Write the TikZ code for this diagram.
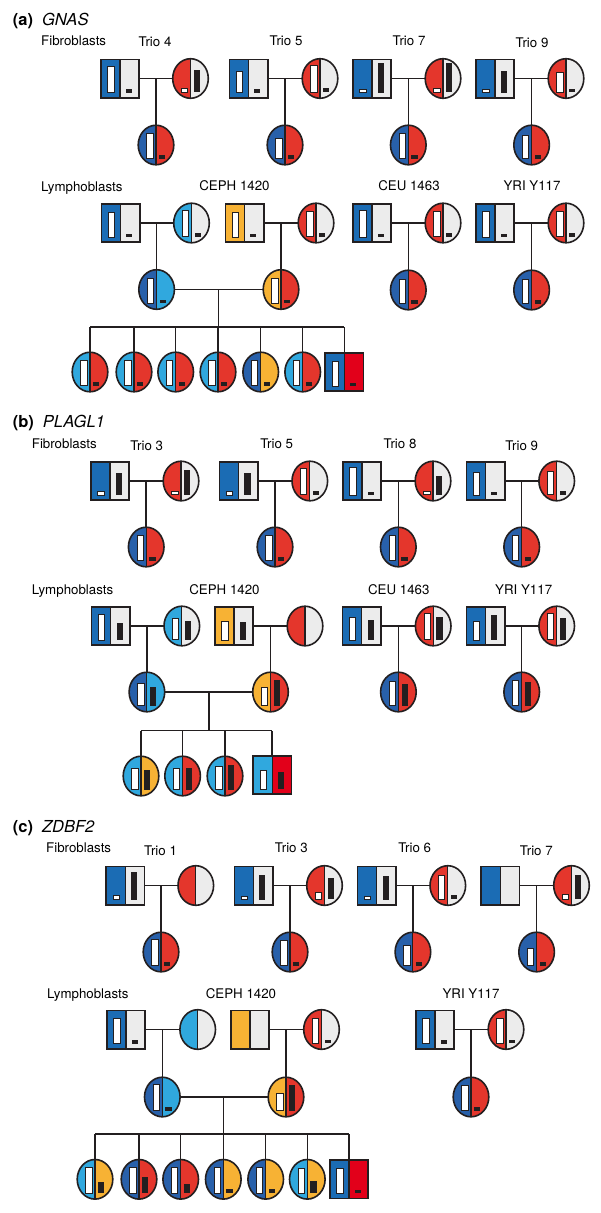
\documentclass[tikz,border=0pt]{standalone}
\usepackage{fontspec}
\setmainfont{TeX Gyre Heros}
\usetikzlibrary{calc}
\definecolor{cBlue}{RGB}{27,108,180}
\definecolor{cDBlue}{RGB}{40,96,170}
\definecolor{cLBlue}{RGB}{48,168,222}
\definecolor{cRed}{RGB}{228,54,44}
\definecolor{cRedM}{RGB}{226,0,26}
\definecolor{cGray}{RGB}{236,236,236}
\definecolor{cOr}{RGB}{247,178,52}
\definecolor{cLine}{RGB}{35,31,32}
\tikzset{
 outl/.style={draw=cLine,line width=1.6pt},
 divl/.style={draw=cLine,line width=1.1pt},
 conn/.style={draw=cLine,line width=1.5pt},
 wbar/.style={fill=white,draw=cLine,line width=0.6pt},
 bbar/.style={fill=cLine},
 sqn/.style={rectangle,minimum width=38.4pt,minimum height=38.4pt,inner sep=0pt,outer sep=0pt},
 cin/.style={rectangle,minimum width=35.6pt,minimum height=39.6pt,inner sep=0pt,outer sep=0pt},
 lab/.style={anchor=base,font=\fontsize{13.3}{15}\selectfont,inner sep=0pt},
 labw/.style={anchor=base west,font=\fontsize{13.3}{15}\selectfont,inner sep=0pt},
 ttl/.style={anchor=base west,font=\fontsize{16.5}{19}\selectfont,inner sep=0pt},
}
% cx, cy, white offset, black offset, base, white h, black h
\newcommand\barsat[7]{%
 \ifdim #6pt>0pt \filldraw[wbar] ({#1-#3-3.1},{#2+#5}) rectangle ({#1-#3+3.1},{#2+#5-#6}); \fi
 \ifdim #7pt>0pt \fill[bbar] ({#1+#4-3.1},{#2+#5}) rectangle ({#1+#4+3.1},{#2+#5-#7}); \fi
}
% name, x, y, left colour, right colour, white h, black h
\newcommand\Msq[7]{%
 \node[sqn] (#1) at (#2,#3) {};
 \fill[#4] (#1.south west) rectangle (#1.north);
 \fill[#5] (#1.south) rectangle (#1.north east);
 \barsat{#2}{#3}{9.3}{8.8}{14}{#6}{#7}
 \draw[outl] (#1.south west) rectangle (#1.north east);
 \draw[divl] (#1.south) -- (#1.north);
}
\newcommand\Fci[7]{%
 \node[cin] (#1) at (#2,#3) {};
 \begin{scope}
 \clip (#2,#3) ellipse [x radius=17.8pt, y radius=19.8pt];
 \fill[#4] ({#2-20},{#3-21}) rectangle (#2,{#3+21});
 \fill[#5] (#2,{#3-21}) rectangle ({#2+20},{#3+21});
 \end{scope}
 \barsat{#2}{#3}{6.2}{6.2}{13.5}{#6}{#7}
 \draw[outl] (#2,#3) ellipse [x radius=17.8pt, y radius=19.8pt];
 \draw[divl] (#1.north) -- (#1.south);
}
\newcommand\trio[3]{%
 \draw[conn] (#1.east) -- (#2.west);
 \draw[conn] (#3.north) -- (#3.north |- #1.east);
}
\newcommand\kid[2]{\draw[conn] (#1.north) -- (#1.north |- #2);}

\begin{document}
\begin{tikzpicture}[x=1pt,y=-1pt]
\fill[white] (0,0) rectangle (600,1213);
\useasboundingbox (0,0) rectangle (600,1213);

% ================= (a) GNAS =================
\node[ttl] (ta) at (12.7,25) {\textbf{(a)}\hspace{9pt}\textit{GNAS}};
\node[labw] (fa) at (41,45) {Fibroblasts};
\node[lab] (t4a) at (155,46.5) {Trio 4};
\node[lab] (t5a) at (286,45.5) {Trio 5};
\node[lab] (t7a) at (409,45.5) {Trio 7};
\node[lab] (t9a) at (532,47) {Trio 9};

\Msq{a4f}{120}{78.5}{cBlue}{cGray}{26.7}{4}
\Fci{a4m}{190.5}{78.5}{cRed}{cGray}{4}{21.6}
\Fci{a4c}{156}{145}{cDBlue}{cRed}{25}{3.5}
\Msq{a5f}{248.5}{78.5}{cBlue}{cGray}{21}{4}
\Fci{a5m}{320}{78.5}{cRed}{cGray}{26.7}{3.7}
\Fci{a5c}{285}{145}{cDBlue}{cRed}{20}{3.5}
\Msq{a7f}{372}{78.5}{cBlue}{cGray}{3.3}{30}
\Fci{a7m}{443}{78.5}{cRed}{cGray}{3.5}{28.7}
\Fci{a7c}{408.3}{145}{cDBlue}{cRed}{25}{3.5}
\Msq{a9f}{495}{78.5}{cBlue}{cGray}{3.3}{21.7}
\Fci{a9m}{566}{78.5}{cRed}{cGray}{20}{3.5}
\Fci{a9c}{531.6}{145}{cDBlue}{cRed}{23.7}{3.5}
\trio{a4f}{a4m}{a4c}
\trio{a5f}{a5m}{a5c}
\trio{a7f}{a7m}{a7c}
\trio{a9f}{a9m}{a9c}

\node[labw] (la) at (41,191.5) {Lymphoblasts};
\node[lab] (cepha) at (234.5,190.7) {CEPH 1420};
\node[lab] (ceua) at (409,190.7) {CEU 1463};
\node[lab] (yria) at (532,190.7) {YRI Y117};

\Msq{aP1}{120.5}{223}{cBlue}{cGray}{25}{3.5}
\Fci{aM1}{191.5}{223}{cLBlue}{cGray}{26}{3.5}
\Msq{aP2}{244.5}{223}{cOr}{cGray}{25}{3.5}
\Fci{aM2}{316}{223}{cRed}{cGray}{25}{3.5}
\Fci{aG1}{156.6}{289.5}{cDBlue}{cLBlue}{25}{3.5}
\Fci{aG2}{281}{289.5}{cOr}{cRed}{25}{3.5}
\trio{aP1}{aM1}{aG1}
\trio{aP2}{aM2}{aG2}
\draw[conn] (aG1.east) -- (aG2.west);
\coordinate (aS) at (218.5,327);
\draw[conn] (aS) -- (aS |- aG1.east);
\Fci{aK1}{90}{372}{cLBlue}{cRed}{25}{3.5}
\Fci{aK2}{134}{372}{cLBlue}{cRed}{25}{3.5}
\Fci{aK3}{175.7}{372}{cLBlue}{cRed}{25}{3.5}
\Fci{aK4}{218}{372}{cLBlue}{cRed}{25}{3.5}
\Fci{aK5}{260.7}{372}{cDBlue}{cOr}{25}{3.5}
\Fci{aK6}{302.7}{372}{cLBlue}{cRed}{25}{3.5}
\Msq{aK7}{344.3}{372}{cBlue}{cRedM}{25}{3.5}
\draw[conn] (aK1.north |- aS) -- (aK7.north |- aS);
\kid{aK1}{aS}\kid{aK2}{aS}\kid{aK3}{aS}\kid{aK4}{aS}\kid{aK5}{aS}\kid{aK6}{aS}\kid{aK7}{aS}

\Msq{aCf}{372}{223}{cBlue}{cGray}{26.7}{3.5}
\Fci{aCm}{443}{223}{cRed}{cGray}{25}{3.5}
\Fci{aCc}{408.3}{290}{cDBlue}{cRed}{24}{3.5}
\trio{aCf}{aCm}{aCc}
\Msq{aYf}{495}{223}{cBlue}{cGray}{26}{3.5}
\Fci{aYm}{566}{223}{cRed}{cGray}{25}{3.5}
\Fci{aYc}{531.6}{290}{cDBlue}{cRed}{24}{3.5}
\trio{aYf}{aYm}{aYc}

% ================= (b) PLAGL1 =================
\node[ttl] (tb) at (12.7,427) {\textbf{(b)}\hspace{9pt}\textit{PLAGL1}};
\node[labw] (fb) at (31.7,448.3) {Fibroblasts};
\node[lab] (t3b) at (146.7,450) {Trio 3};
\node[lab] (t5b) at (276.7,448.3) {Trio 5};
\node[lab] (t8b) at (400,448.3) {Trio 8};
\node[lab] (t9b) at (521.7,450) {Trio 9};

\Msq{b3f}{110}{481}{cBlue}{cGray}{3.5}{22}
\Fci{b3m}{181}{481}{cRed}{cGray}{3.5}{25}
\Fci{b3c}{146.2}{547}{cDBlue}{cRed}{25}{3.5}
\Msq{b5f}{238.7}{481}{cBlue}{cGray}{3.5}{22}
\Fci{b5m}{309.8}{481}{cRed}{cGray}{26}{3.5}
\Fci{b5c}{275}{547}{cDBlue}{cRed}{25}{3.5}
\Msq{b8f}{362}{481}{cBlue}{cGray}{27.7}{3.5}
\Fci{b8m}{433}{481}{cRed}{cGray}{3.5}{18.3}
\Fci{b8c}{398.3}{547}{cDBlue}{cRed}{25}{3.5}
\Msq{b9f}{485.5}{481}{cBlue}{cGray}{23}{3.5}
\Fci{b9m}{556.7}{481}{cRed}{cGray}{23}{3.5}
\Fci{b9c}{521.7}{547}{cDBlue}{cRed}{25}{3.5}
\trio{b3f}{b3m}{b3c}
\trio{b5f}{b5m}{b5c}
\trio{b8f}{b8m}{b8c}
\trio{b9f}{b9m}{b9c}

\node[labw] (lb) at (31.7,594) {Lymphoblasts};
\node[lab] (cephb) at (224.5,594) {CEPH 1420};
\node[lab] (ceub) at (398.8,594) {CEU 1463};
\node[lab] (yrib) at (523.7,594) {YRI Y117};

\Msq{bP1}{110.8}{626}{cBlue}{cGray}{26}{17}
\Fci{bM1}{181.8}{626}{cLBlue}{cGray}{21}{19}
\Msq{bP2}{234}{626}{cOr}{cGray}{18.7}{17.7}
\Fci{bM2}{305}{626}{cRed}{cGray}{0}{0}
\Fci{bG1}{146.9}{692}{cDBlue}{cLBlue}{22}{19}
\Fci{bG2}{270.5}{692}{cOr}{cRed}{18}{26}
\trio{bP1}{bM1}{bG1}
\trio{bP2}{bM2}{bG2}
\draw[conn] (bG1.east) -- (bG2.west);
\coordinate (bS) at (208.8,730.7);
\draw[conn] (bS) -- (bS |- bG1.east);
\Fci{bK1}{141}{776}{cLBlue}{cOr}{21.7}{19.3}
\Fci{bK2}{182.6}{776}{cLBlue}{cRed}{21.7}{22}
\Fci{bK3}{225}{776}{cLBlue}{cRed}{23}{25}
\Msq{bK4}{272.2}{775}{cLBlue}{cRedM}{19}{16.7}
\draw[conn] (bK1.north |- bS) -- (bK4.north |- bS);
\kid{bK1}{bS}\kid{bK2}{bS}\kid{bK3}{bS}\kid{bK4}{bS}

\Msq{bCf}{361.8}{626}{cBlue}{cGray}{22.7}{20}
\Fci{bCm}{433.2}{626}{cRed}{cGray}{26.7}{23}
\Fci{bCc}{398.4}{692}{cDBlue}{cRed}{24}{21.7}
\trio{bCf}{bCm}{bCc}
\Msq{bYf}{485.5}{626}{cBlue}{cGray}{19}{25}
\Fci{bYm}{556.7}{626}{cRed}{cGray}{26}{22}
\Fci{bYc}{521.7}{692}{cDBlue}{cRed}{25}{23.3}
\trio{bYf}{bYm}{bYc}

% ================= (c) ZDBF2 =================
\node[ttl] (tc) at (12.7,832) {\textbf{(c)}\hspace{9pt}\textit{ZDBF2}};
\node[labw] (fc) at (46,852.5) {Fibroblasts};
\node[lab] (t1c) at (160.5,855) {Trio 1};
\node[lab] (t3c) at (291.3,852.7) {Trio 3};
\node[lab] (t6c) at (414.7,852.7) {Trio 6};
\node[lab] (t7c) at (536.3,855) {Trio 7};

\Msq{c1f}{125.2}{885.5}{cBlue}{cGray}{4.5}{27.3}
\Fci{c1m}{195.8}{885.5}{cRed}{cGray}{0}{0}
\Fci{c1c}{161}{952}{cDBlue}{cRed}{26}{3.5}
\Msq{c3f}{253.5}{885.5}{cBlue}{cGray}{3.5}{25}
\Fci{c3m}{324.5}{885.5}{cRed}{cGray}{6.7}{21}
\Fci{c3c}{290}{952}{cDBlue}{cRed}{25}{3.5}
\Msq{c6f}{376.8}{885.5}{cBlue}{cGray}{3.5}{24}
\Fci{c6m}{447.8}{885.5}{cRed}{cGray}{24}{4}
\Fci{c6c}{412.9}{952}{cDBlue}{cRed}{20}{3.5}
\Msq{c7f}{500.2}{885.5}{cBlue}{cGray}{0}{0}
\Fci{c7m}{571.5}{885.5}{cRed}{cGray}{4.5}{24.3}
\Fci{c7c}{536.6}{952}{cDBlue}{cRed}{17.6}{3.5}
\trio{c1f}{c1m}{c1c}
\trio{c3f}{c3m}{c3c}
\trio{c6f}{c6m}{c6c}
\trio{c7f}{c7m}{c7c}

\node[labw] (lc) at (47,998.3) {Lymphoblasts};
\node[lab] (cephc) at (241,998.3) {CEPH 1420};
\node[lab] (yric) at (471,998.3) {YRI Y117};

\Msq{cP1}{126}{1029.5}{cBlue}{cGray}{25}{3.5}
\Fci{cM1}{197.7}{1029.5}{cLBlue}{cGray}{0}{0}
\Msq{cP2}{250}{1029.5}{cOr}{cGray}{0}{0}
\Fci{cM2}{321.5}{1029.5}{cRed}{cGray}{25}{3.5}
\Fci{cG1}{162.3}{1097}{cDBlue}{cLBlue}{26.3}{3.5}
\Fci{cG2}{286}{1097}{cOr}{cRed}{17.3}{25.7}
\trio{cP1}{cM1}{cG1}
\trio{cP2}{cM2}{cG2}
\draw[conn] (cG1.east) -- (cG2.west);
\coordinate (cS) at (223.3,1134);
\draw[conn] (cS) -- (cS |- cG1.east);
\Fci{cK1}{95}{1179.3}{cLBlue}{cOr}{25.7}{11}
\Fci{cK2}{139}{1179.3}{cDBlue}{cRed}{25.7}{16}
\Fci{cK3}{180.7}{1179.3}{cDBlue}{cRed}{25.7}{9.3}
\Fci{cK4}{223.3}{1179.3}{cDBlue}{cOr}{25.7}{3.5}
\Fci{cK5}{265.7}{1179.3}{cDBlue}{cOr}{25.7}{3.5}
\Fci{cK6}{307.3}{1179.3}{cLBlue}{cOr}{24.7}{11.7}
\Msq{cK7}{349}{1179.3}{cBlue}{cRedM}{25.3}{3.5}
\draw[conn] (cK1.north |- cS) -- (cK7.north |- cS);
\kid{cK1}{cS}\kid{cK2}{cS}\kid{cK3}{cS}\kid{cK4}{cS}\kid{cK5}{cS}\kid{cK6}{cS}\kid{cK7}{cS}

\Msq{cYf}{435}{1029.5}{cBlue}{cGray}{25}{3.5}
\Fci{cYm}{506}{1029.5}{cRed}{cGray}{25}{3.5}
\Fci{cYc}{471}{1097}{cDBlue}{cRed}{25}{3.5}
\trio{cYf}{cYm}{cYc}
\end{tikzpicture}
\end{document}
